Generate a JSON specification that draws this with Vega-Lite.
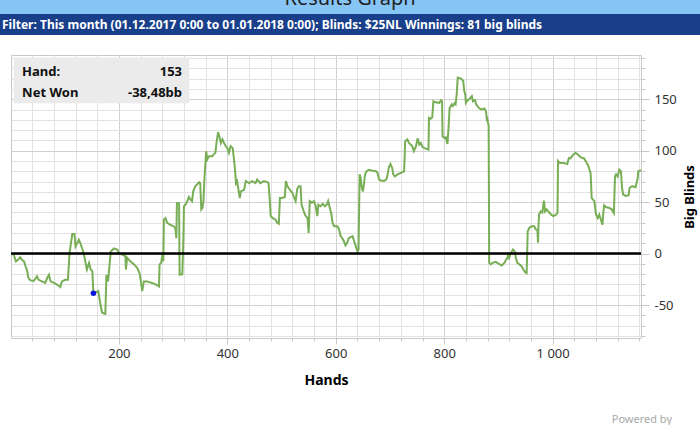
{
  "$schema": "https://vega.github.io/schema/vega-lite/v6.json",
  "padding": 0,
  "background": "white",
  "spacing": 0,
  "config": {
    "view": {"stroke": null},
    "font": "Noto Sans",
    "locale": {"number": {"decimal": ",", "thousands": " ", "grouping": [3], "currency": ["", ""], "minus": "-"}}
  },
  "vconcat": [
    {
      "width": 700, "height": 14,
      "view": {"fill": "#88c5f7", "stroke": null},
      "data": {"values": [{"t": "Results Graph"}]},
      "mark": {"type": "text", "fontSize": 20, "color": "#1f1f1f", "baseline": "alphabetic", "dy": -2, "clip": true},
      "encoding": {"text": {"field": "t"}}
    },
    {
      "width": 700, "height": 21,
      "view": {"fill": "#1a3f8a", "stroke": null},
      "data": {"values": [{"t": "Filter: This month (01.12.2017 0:00 to 01.01.2018 0:00); Blinds: $25NL Winnings: 81 big blinds"}]},
      "mark": {"type": "text", "align": "left", "dx": 2, "fontSize": 12, "fontWeight": "bold", "color": "white"},
      "encoding": {
        "text": {"field": "t"},
        "x": {"datum": 0, "type": "quantitative", "scale": {"domain": [0, 1]}, "axis": null}
      }
    },
    {"width": 700, "height": 19, "data": {"values": []}, "mark": "point"},
    {
      "spacing": 0,
      "hconcat": [
        {"width": 6, "height": 283, "data": {"values": []}, "mark": "point"},
        {
          "width": 630, "height": 283,
          "view": {"stroke": "#c8c8c8", "strokeWidth": 1},
          "resolve": {"axis": {"x": "independent", "y": "independent"}},
          "layer": [
            {
              "data": {"values": [
{"hand":1,"bb":0},{"hand":6,"bb":-1},{"hand":10,"bb":-7.5},{"hand":14,"bb":-6},{"hand":18,"bb":-3.5},{"hand":21,"bb":-6},{"hand":25,"bb":-7.5},{"hand":28,"bb":-12.5},{"hand":31,"bb":-17},{"hand":33,"bb":-23.5},{"hand":37,"bb":-26},{"hand":43,"bb":-26.5},{"hand":49,"bb":-22},{"hand":52,"bb":-25.5},{"hand":58,"bb":-27},{"hand":64,"bb":-28.5},{"hand":68,"bb":-23.5},{"hand":71,"bb":-20.5},{"hand":74,"bb":-27},{"hand":80,"bb":-28.5},{"hand":86,"bb":-30},{"hand":92,"bb":-32.5},{"hand":95,"bb":-27},{"hand":101,"bb":-25.5},{"hand":106,"bb":-25.5},{"hand":109,"bb":0.5},{"hand":114,"bb":19},{"hand":118,"bb":19},{"hand":120,"bb":7},{"hand":123,"bb":10},{"hand":126,"bb":13.5},{"hand":129,"bb":10},{"hand":132,"bb":5.5},{"hand":135,"bb":0.5},{"hand":138,"bb":-7.5},{"hand":141,"bb":-15.5},{"hand":145,"bb":-9},{"hand":148,"bb":-15.5},{"hand":151,"bb":-17},{"hand":153,"bb":-38.48},{"hand":162,"bb":-36.5},{"hand":166,"bb":-49.5},{"hand":169,"bb":-57.5},{"hand":175,"bb":-58.5},{"hand":177,"bb":-20.5},{"hand":180,"bb":-27},{"hand":182,"bb":-15.5},{"hand":185,"bb":2},{"hand":191,"bb":5},{"hand":197,"bb":4},{"hand":200,"bb":0.5},{"hand":206,"bb":-1},{"hand":212,"bb":-2.5},{"hand":213,"bb":-15.5},{"hand":215,"bb":-4},{"hand":221,"bb":-7.5},{"hand":228,"bb":-10.5},{"hand":234,"bb":-14},{"hand":238,"bb":-19},{"hand":240,"bb":-25},{"hand":243,"bb":-36.5},{"hand":246,"bb":-27},{"hand":252,"bb":-27},{"hand":261,"bb":-28.5},{"hand":268,"bb":-30},{"hand":274,"bb":-32},{"hand":275,"bb":-10.5},{"hand":278,"bb":-9},{"hand":280,"bb":-1},{"hand":282,"bb":-7.5},{"hand":283,"bb":33},{"hand":286,"bb":34.5},{"hand":289,"bb":30},{"hand":295,"bb":28},{"hand":301,"bb":26.5},{"hand":304,"bb":25},{"hand":306,"bb":15},{"hand":307,"bb":49},{"hand":311,"bb":49},{"hand":312,"bb":-20.5},{"hand":317,"bb":-20},{"hand":319,"bb":15},{"hand":320,"bb":46},{"hand":323,"bb":47.5},{"hand":327,"bb":52},{"hand":329,"bb":55},{"hand":332,"bb":52.5},{"hand":335,"bb":51},{"hand":337,"bb":60.5},{"hand":341,"bb":65.5},{"hand":348,"bb":69.5},{"hand":350,"bb":68.5},{"hand":352,"bb":43},{"hand":354,"bb":44.5},{"hand":356,"bb":51},{"hand":358,"bb":75},{"hand":361,"bb":99.5},{"hand":363,"bb":91.5},{"hand":366,"bb":94.5},{"hand":372,"bb":94.5},{"hand":375,"bb":96.5},{"hand":378,"bb":98},{"hand":380,"bb":107.5},{"hand":383,"bb":118},{"hand":386,"bb":112.5},{"hand":388,"bb":107.5},{"hand":391,"bb":111},{"hand":394,"bb":107.5},{"hand":397,"bb":104.5},{"hand":400,"bb":102.5},{"hand":403,"bb":98},{"hand":406,"bb":104.5},{"hand":410,"bb":102.5},{"hand":414,"bb":83},{"hand":416,"bb":68.5},{"hand":418,"bb":70.5},{"hand":420,"bb":64},{"hand":423,"bb":54},{"hand":425,"bb":60.5},{"hand":431,"bb":62},{"hand":434,"bb":70.5},{"hand":440,"bb":68.5},{"hand":446,"bb":70.5},{"hand":452,"bb":68.5},{"hand":455,"bb":72},{"hand":461,"bb":68.5},{"hand":467,"bb":70.5},{"hand":474,"bb":69.5},{"hand":476,"bb":68.5},{"hand":478,"bb":54},{"hand":480,"bb":36.5},{"hand":484,"bb":34.5},{"hand":489,"bb":33},{"hand":492,"bb":30},{"hand":495,"bb":29},{"hand":497,"bb":54},{"hand":501,"bb":54},{"hand":506,"bb":55},{"hand":508,"bb":70.5},{"hand":511,"bb":65.5},{"hand":514,"bb":63},{"hand":517,"bb":61},{"hand":520,"bb":59},{"hand":526,"bb":51},{"hand":529,"bb":63},{"hand":532,"bb":65.5},{"hand":535,"bb":65.5},{"hand":537,"bb":47.5},{"hand":541,"bb":41},{"hand":544,"bb":37},{"hand":548,"bb":34.5},{"hand":550,"bb":20},{"hand":552,"bb":51},{"hand":556,"bb":49.5},{"hand":560,"bb":51},{"hand":563,"bb":46},{"hand":566,"bb":36.5},{"hand":568,"bb":47.5},{"hand":572,"bb":46},{"hand":576,"bb":48.5},{"hand":580,"bb":46},{"hand":584,"bb":48},{"hand":586,"bb":51},{"hand":589,"bb":44.5},{"hand":592,"bb":38},{"hand":594,"bb":30},{"hand":597,"bb":26.5},{"hand":603,"bb":26.5},{"hand":606,"bb":23.5},{"hand":609,"bb":17},{"hand":612,"bb":15},{"hand":615,"bb":12},{"hand":618,"bb":8},{"hand":621,"bb":10.5},{"hand":624,"bb":15},{"hand":631,"bb":17},{"hand":634,"bb":12},{"hand":637,"bb":7},{"hand":640,"bb":2},{"hand":642,"bb":3.5},{"hand":643,"bb":41},{"hand":644,"bb":77},{"hand":646,"bb":73.5},{"hand":648,"bb":64},{"hand":650,"bb":60.5},{"hand":652,"bb":67},{"hand":654,"bb":77},{"hand":657,"bb":80},{"hand":661,"bb":81.5},{"hand":668,"bb":80.5},{"hand":674,"bb":80},{"hand":677,"bb":78.5},{"hand":680,"bb":72},{"hand":683,"bb":71},{"hand":689,"bb":70.5},{"hand":693,"bb":72},{"hand":695,"bb":75},{"hand":698,"bb":84},{"hand":701,"bb":87},{"hand":704,"bb":83.5},{"hand":706,"bb":77},{"hand":709,"bb":75},{"hand":714,"bb":77},{"hand":720,"bb":78.5},{"hand":726,"bb":80},{"hand":727,"bb":93},{"hand":728,"bb":109},{"hand":732,"bb":111},{"hand":735,"bb":107.5},{"hand":741,"bb":104.5},{"hand":744,"bb":99.5},{"hand":748,"bb":104.5},{"hand":751,"bb":112},{"hand":754,"bb":106},{"hand":757,"bb":107.5},{"hand":760,"bb":103.5},{"hand":766,"bb":102},{"hand":771,"bb":101},{"hand":772,"bb":132},{"hand":775,"bb":131},{"hand":778,"bb":132.5},{"hand":780,"bb":148},{"hand":784,"bb":147},{"hand":791,"bb":146.5},{"hand":794,"bb":149},{"hand":796,"bb":148},{"hand":797,"bb":114},{"hand":800,"bb":112.5},{"hand":803,"bb":113},{"hand":806,"bb":106.5},{"hand":808,"bb":122},{"hand":810,"bb":141.5},{"hand":814,"bb":145},{"hand":816,"bb":143.5},{"hand":819,"bb":146},{"hand":821,"bb":145},{"hand":823,"bb":154.5},{"hand":825,"bb":171},{"hand":831,"bb":170},{"hand":835,"bb":168},{"hand":837,"bb":158},{"hand":839,"bb":154.5},{"hand":840,"bb":146.5},{"hand":843,"bb":149},{"hand":846,"bb":150},{"hand":851,"bb":153},{"hand":853,"bb":148},{"hand":857,"bb":149},{"hand":859,"bb":145},{"hand":864,"bb":141.5},{"hand":869,"bb":140},{"hand":874,"bb":141},{"hand":877,"bb":138.5},{"hand":879,"bb":128.5},{"hand":880,"bb":130},{"hand":882,"bb":124},{"hand":883,"bb":-9},{"hand":886,"bb":-10.5},{"hand":889,"bb":-9},{"hand":895,"bb":-8},{"hand":901,"bb":-10},{"hand":906,"bb":-11.5},{"hand":911,"bb":-9},{"hand":914,"bb":-6},{"hand":917,"bb":-4},{"hand":918,"bb":0.5},{"hand":920,"bb":-4},{"hand":923,"bb":0.5},{"hand":927,"bb":4},{"hand":931,"bb":1.5},{"hand":932,"bb":-4},{"hand":935,"bb":-9},{"hand":939,"bb":-10.5},{"hand":943,"bb":-12.5},{"hand":946,"bb":-15.5},{"hand":949,"bb":-18},{"hand":952,"bb":-19},{"hand":953,"bb":-1},{"hand":954,"bb":21.5},{"hand":957,"bb":25},{"hand":961,"bb":26.5},{"hand":966,"bb":26.5},{"hand":969,"bb":23.5},{"hand":972,"bb":23},{"hand":973,"bb":10.5},{"hand":974,"bb":28},{"hand":975,"bb":38},{"hand":978,"bb":41},{"hand":981,"bb":40},{"hand":984,"bb":51.5},{"hand":986,"bb":41},{"hand":989,"bb":43},{"hand":992,"bb":41},{"hand":997,"bb":38},{"hand":1001,"bb":36.5},{"hand":1006,"bb":37.5},{"hand":1009,"bb":39.5},{"hand":1010,"bb":90},{"hand":1013,"bb":88},{"hand":1021,"bb":88},{"hand":1027,"bb":87},{"hand":1030,"bb":93},{"hand":1033,"bb":92.5},{"hand":1037,"bb":95.5},{"hand":1042,"bb":98},{"hand":1046,"bb":96.5},{"hand":1052,"bb":93.5},{"hand":1058,"bb":92.5},{"hand":1062,"bb":89},{"hand":1066,"bb":85},{"hand":1070,"bb":78.5},{"hand":1072,"bb":54},{"hand":1077,"bb":51},{"hand":1080,"bb":38},{"hand":1083,"bb":34.5},{"hand":1086,"bb":38},{"hand":1089,"bb":33},{"hand":1092,"bb":28},{"hand":1093,"bb":37},{"hand":1095,"bb":47},{"hand":1099,"bb":45},{"hand":1104,"bb":44.5},{"hand":1109,"bb":43},{"hand":1113,"bb":39.5},{"hand":1115,"bb":75},{"hand":1117,"bb":77},{"hand":1120,"bb":75},{"hand":1123,"bb":81.5},{"hand":1126,"bb":80},{"hand":1128,"bb":64},{"hand":1130,"bb":57.5},{"hand":1135,"bb":56},{"hand":1140,"bb":56.5},{"hand":1142,"bb":64},{"hand":1147,"bb":65.5},{"hand":1153,"bb":64.5},{"hand":1157,"bb":73.5},{"hand":1158,"bb":80},{"hand":1163,"bb":81}
              ]},
              "mark": {"type": "line", "color": "#78ae55", "strokeWidth": 2},
              "encoding": {
                "x": {"field": "hand", "type": "quantitative",
                  "scale": {"domain": [1, 1163], "nice": false, "zero": false},
                  "axis": {"orient": "bottom", "values": [40,80,120,160,240,280,320,360,440,480,520,560,640,680,720,760,840,880,920,960,1040,1080,1120,1160],
                    "labels": false, "title": null, "domain": false, "grid": true, "gridColor": "#e2e2e2", "tickSize": 3, "tickColor": "#c8c8c8"}},
                "y": {"field": "bb", "type": "quantitative",
                  "scale": {"domain": [-82, 193], "nice": false, "zero": false},
                  "axis": {"orient": "right", "values": [-80,-70,-60,-40,-30,-20,-10,10,20,30,40,60,70,80,90,110,120,130,140,160,170,180,190],
                    "labels": false, "title": null, "domain": false, "grid": true, "gridColor": "#e2e2e2", "tickSize": 4, "tickColor": "#c8c8c8"}}
              }
            },
            {
              "data": {"values": [{}]},
              "mark": {"type": "rule", "color": "black", "strokeWidth": 2.5},
              "encoding": {"y": {"datum": 0, "type": "quantitative", "axis": null}}
            },
            {
              "data": {"values": [{"hand": 153, "bb": -38.48}]},
              "mark": {"type": "point", "filled": true, "color": "#0a14dc", "size": 30, "opacity": 1},
              "encoding": {
                "x": {"field": "hand", "type": "quantitative",
                  "axis": {"orient": "bottom", "values": [200, 400, 600, 800, 1000], "format": ",d", "title": "Hands", "domain": false, "grid": true, "gridColor": "#d0d0d0",
                    "tickSize": 6, "tickColor": "#c8c8c8", "labelFontSize": 13, "labelColor": "#333333", "labelPadding": 3,
                    "titleFontSize": 14, "titleFontWeight": "bold", "titleColor": "black", "titlePadding": 13}},
                "y": {"field": "bb", "type": "quantitative",
                  "axis": {"orient": "right", "values": [-50, 0, 50, 100, 150], "title": "Big Blinds", "domain": false, "grid": true, "gridColor": "#d0d0d0",
                    "tickSize": 8, "tickColor": "#c8c8c8", "labelFontSize": 13, "labelColor": "#333333", "labelPadding": 5,
                    "titleFontSize": 13, "titleFontWeight": "bold", "titleColor": "black", "titleAngle": 270, "titleBaseline": "top", "titlePadding": 7}}
              }
            },
            {
              "data": {"values": [{}]},
              "mark": {"type": "rect", "color": "#ebebeb", "opacity": 1},
              "encoding": {
                "x": {"datum": 6, "type": "quantitative", "axis": null},
                "x2": {"datum": 330},
                "y": {"datum": 190.5, "type": "quantitative", "axis": null},
                "y2": {"datum": 146}
              }
            },
            {
              "data": {"values": [{}]},
              "mark": {"type": "text", "text": ["Hand:", "Net Won"], "align": "left", "baseline": "middle", "lineHeight": 21, "fontSize": 13, "fontWeight": "bold", "color": "#111111"},
              "encoding": {
                "x": {"datum": 21.5, "type": "quantitative", "axis": null},
                "y": {"datum": 176.5, "type": "quantitative", "axis": null}
              }
            },
            {
              "data": {"values": [{}]},
              "mark": {"type": "text", "text": ["153", "-38,48bb"], "align": "right", "baseline": "middle", "lineHeight": 21, "fontSize": 13, "fontWeight": "bold", "color": "#111111"},
              "encoding": {
                "x": {"datum": 316.5, "type": "quantitative", "axis": null},
                "y": {"datum": 176.5, "type": "quantitative", "axis": null}
              }
            }
          ]
        }
      ]
    },
    {
      "width": 700, "height": 34,
      "data": {"values": [{"t": "Powered by"}]},
      "mark": {"type": "text", "align": "right", "dx": -28, "dy": 15, "fontSize": 11, "color": "#a8a8a8"},
      "encoding": {
        "text": {"field": "t"},
        "x": {"datum": 1, "type": "quantitative", "scale": {"domain": [0, 1]}, "axis": null}
      }
    }
  ]
}
